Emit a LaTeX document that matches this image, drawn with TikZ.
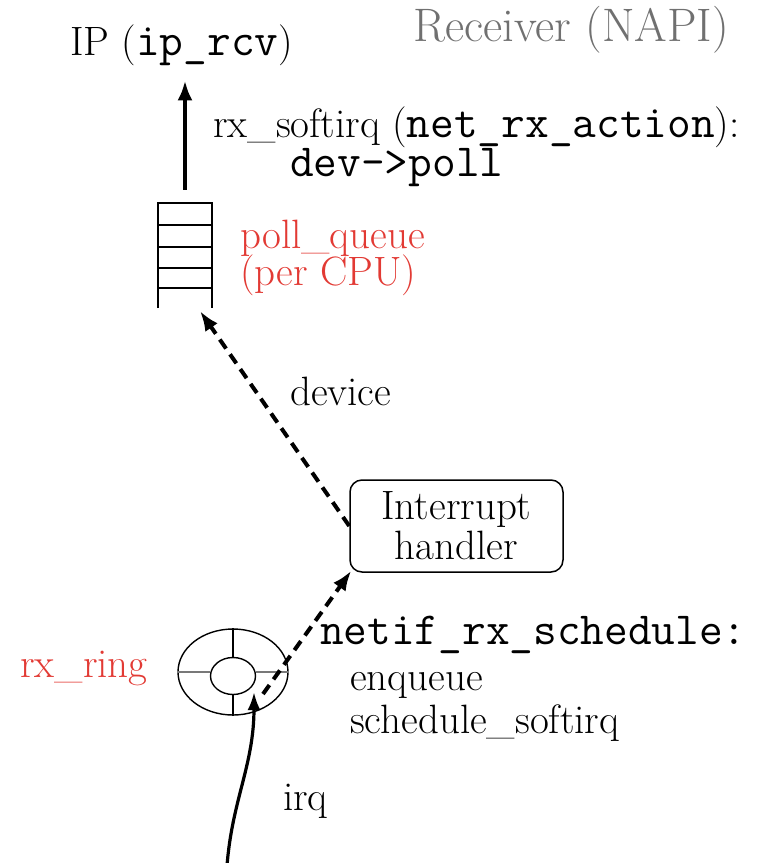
\documentclass[tikz,border=0pt]{standalone}
\usepackage{fontspec}
\usetikzlibrary{arrows.meta,shapes.geometric}

\definecolor{ringred}{RGB}{226,58,52}
\definecolor{titlegray}{RGB}{112,112,112}
\definecolor{spokegray}{RGB}{120,120,120}
\newcommand{\serifsize}{\fontsize{41}{40}\selectfont}
\newcommand{\titlesize}{\fontsize{47}{47}\selectfont}
\newcommand{\codefont}{\fontsize{46}{46}\selectfont\ttfamily}

\begin{document}
\begin{tikzpicture}[x=1pt,y=-1pt,
  lbl/.style={anchor=base west, inner sep=0pt, font=\serifsize},
  code/.style={anchor=base west, inner sep=0pt, font=\codefont},
  redlbl/.style={lbl, text=ringred},
  handlerbox/.style={draw, rounded corners=12pt, line width=1.5pt,
    minimum width=213pt, minimum height=92pt, align=center, font=\serifsize},
  bigtip/.style={-{Latex[length=20pt,width=15pt]}},
  solidflow/.style={bigtip, line width=4pt},
  dashflow/.style={bigtip, line width=4pt, dash pattern=on 11pt off 7pt},
  irqflow/.style={-{Latex[length=18pt,width=13pt]}, line width=3.2pt},
  queueline/.style={line width=2pt},
  spoke/.style={line width=1.2pt, draw=spokegray},
]
\useasboundingbox (0,0) rectangle (779,863);

% headings and labels
\node[lbl, font=\titlesize, text=titlegray] (title) at (413,41) {Receiver (NAPI)};
\node[lbl] (ip) at (70,55) {IP ({\codefont ip\_rcv})};
\node[lbl] (softirq) at (213,137) {rx\_softirq ({\codefont net\_rx\_action}):};
\node[code] (poll) at (290,176) {dev->poll};
\node[redlbl] (pq) at (240,248) {poll\_queue};
\node[redlbl] (cpu) at (240,285) {(per CPU)};
\node[lbl] (device) at (290,405) {device};
\node[code] (sched) at (320,644) {netif\_rx\_schedule:};
\node[lbl] (enq) at (350,690) {enqueue};
\node[lbl] (ssirq) at (350,733) {schedule\_softirq};
\node[redlbl] (rxring) at (20,677) {rx\_ring};
\node[lbl] (irqlbl) at (283,810) {irq};

% per-CPU poll queue
\node[minimum width=54pt, minimum height=105pt, inner sep=0pt] (queue) at (185,255.5) {};
\draw[queueline] (queue.south west) -- (queue.north west) -- (queue.north east) -- (queue.south east);
\foreach \yy in {225,247,268,288}
  \draw[queueline] (queue.west |- 0,\yy) -- (queue.east |- 0,\yy);

% interrupt handler
\node[handlerbox] (ih) at (456.5,526) {Interrupt\\handler};

% receive ring
\node[ellipse, draw, line width=1.4pt, minimum width=110pt, minimum height=86pt, inner sep=0pt] (ring) at (233,672) {};
\node[ellipse, draw, line width=1.4pt, minimum width=45pt, minimum height=37pt, inner sep=0pt] (hub) at (233,676) {};
\draw[spoke] (ring.west) -- (hub.west |- ring.west);
\draw[spoke] (hub.east |- ring.east) -- (ring.east);
\draw[line width=1.2pt] (ring.north) -- (hub.north);
\draw[line width=1.2pt] (hub.south) -- (ring.south);

% connectors
\coordinate (qin) at (200,311);
\coordinate (ringout) at (263,694);
\coordinate (irqsrc) at (227,866);
\draw[solidflow, shorten <=13pt, shorten >=15pt] (queue.north) -- (queue.north |- ip.south);
\draw[dashflow] (ih.west) -- (qin);
\draw[dashflow] (ringout) -- ([shift={(2pt,2pt)}]ih.south west);
\draw[irqflow] (irqsrc) .. controls (232,800) and (254,765) .. (254,692);
\end{tikzpicture}
\end{document}
